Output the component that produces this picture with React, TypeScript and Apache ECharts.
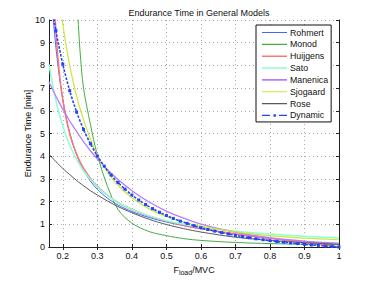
import React, { useEffect, useRef } from "react";
import * as echarts from "echarts";

const xs = [0.16, 0.17, 0.18, 0.19, 0.2, 0.21, 0.22, 0.23, 0.24, 0.25, 0.26, 0.28, 0.3, 0.33, 0.36, 0.4, 0.45, 0.5, 0.55, 0.6, 0.7, 0.8, 0.9, 1.0];
const rohmert = [12.6, 10.45, 8.8, 7.51, 6.5, 5.69, 5.04, 4.51, 4.07, 3.7, 3.39, 2.9, 2.54, 2.14, 1.85, 1.56, 1.3, 1.1, 0.94, 0.8, 0.57, 0.38, 0.23, 0.1];
const monod = [40, 33, 27, 22.5, 19, 16, 13.8, 12.4, 11.0, 8.6, 7.0, 5.4, 4.05, 2.65, 1.65, 1.05, 0.68, 0.5, 0.37, 0.29, 0.2, 0.15, 0.12, 0.1];
const huijgens = [21.4, 12.87, 9.52, 7.67, 6.48, 5.63, 4.99, 4.49, 4.09, 3.75, 3.47, 3.02, 2.67, 2.27, 1.96, 1.65, 1.36, 1.14, 0.96, 0.81, 0.57, 0.38, 0.21, 0];
const sato = [8.05, 7.18, 6.45, 5.84, 5.32, 4.88, 4.49, 4.15, 3.86, 3.6, 3.36, 2.97, 2.65, 2.26, 1.96, 1.66, 1.37, 1.16, 1.0, 0.88, 0.69, 0.57, 0.47, 0.4];
const manenica = [7.27, 6.95, 6.64, 6.35, 6.07, 5.81, 5.55, 5.31, 5.08, 4.86, 4.64, 4.24, 3.88, 3.39, 2.97, 2.48, 1.98, 1.58, 1.27, 1.01, 0.65, 0.41, 0.26, 0.17];
const sjogaard = [15.7, 13.9, 12.3, 10.9, 9.8, 8.83, 8.0, 7.28, 6.65, 6.1, 5.61, 4.75, 4.05, 3.28, 2.72, 2.17, 1.68, 1.34, 1.1, 0.92, 0.67, 0.5, 0.39, 0.32];
const rose = [4.09, 3.92, 3.76, 3.61, 3.46, 3.32, 3.19, 3.06, 2.93, 2.81, 2.7, 2.48, 2.29, 2.02, 1.78, 1.51, 1.22, 0.99, 0.81, 0.66, 0.43, 0.29, 0.19, 0.12];

const dynXs = [0.16, 0.18, 0.2, 0.22, 0.24, 0.26, 0.28, 0.3, 0.32, 0.34, 0.36, 0.38, 0.4, 0.42, 0.44, 0.46, 0.48, 0.5, 0.52, 0.54, 0.56, 0.58, 0.6, 0.62, 0.64, 0.66, 0.68, 0.7, 0.72, 0.74, 0.76, 0.78, 0.8, 0.82, 0.84, 0.86, 0.88, 0.9, 0.92, 0.94, 0.96, 0.98, 1.0];
const dynamic = [11.45, 9.53, 8.05, 6.88, 5.95, 5.18, 4.55, 4.01, 3.56, 3.17, 2.84, 2.55, 2.29, 2.07, 1.87, 1.69, 1.53, 1.39, 1.26, 1.14, 1.04, 0.94, 0.85, 0.77, 0.7, 0.63, 0.57, 0.51, 0.46, 0.41, 0.36, 0.32, 0.28, 0.24, 0.21, 0.18, 0.15, 0.12, 0.09, 0.07, 0.04, 0.02, 0];

const xTicks = [0.2, 0.3, 0.4, 0.5, 0.6, 0.7, 0.8, 0.9, 1.0];
const names = ["Rohmert", "Monod", "Huijgens", "Sato", "Manenica", "Sjogaard", "Rose", "Dynamic"];
const colors = ["#4466ff", "#44ad44", "#ff7474", "#8dffd0", "#b87cff", "#cbe83a", "#5a5a5a", "#2244ff"];

const FONT = "'Liberation Sans', Arial, sans-serif";

const BOX = "M0,0h0.01v0.01h-0.01zM24.99,7.99h0.01v0.01h-0.01z";
const thinIcon = "path://" + BOX + "M0,3.45h25v1.1h-25z";
const thickIcon = "path://" + BOX + "M0,3.2h25v1.6h-25z";
const dashIcon = "path://" + BOX + "M0,3.4h8v1.2h-8zM11.5,2.8h2.4v2.4h-2.4zM17,3.4h8v1.2h-8z";

export default function App() {
  const ref = useRef<HTMLDivElement>(null);
  useEffect(() => {
    if (!ref.current) return;
    const chart = echarts.init(ref.current, undefined, { renderer: "svg" });
    const solid = [rohmert, monod, huijgens, sato, manenica, sjogaard, rose];
    const widths = [1, 1, 1.5, 1.5, 1.3, 1.2, 1];
    const series: any[] = solid.map((arr, k) => ({
      name: names[k],
      type: "line",
      data: xs.map((x, i) => [x, arr[i]]),
      smooth: 0.3,
      symbol: "none",
      clip: true,
      lineStyle: { color: colors[k], width: widths[k] },
      itemStyle: { color: colors[k] },
      z: 2 + k,
    }));
    series.push({
      name: names[7],
      type: "line",
      data: dynXs.map((x, i) => [x, dynamic[i]]),
      smooth: 0.3,
      symbol: "rect",
      symbolSize: 3,
      showSymbol: true,
      clip: true,
      lineStyle: { color: colors[7], width: 1.6, type: [2.5, 1.5] },
      itemStyle: { color: colors[7] },
      z: 10,
    });
    const legendData = names.map((n, k) => ({
      name: n,
      icon: k === 7 ? dashIcon : widths[k] > 1.25 ? thickIcon : thinIcon,
    }));
    const axisLineStyle = { color: "#222", width: 1 };
    chart.setOption({
      animation: false,
      backgroundColor: "#fff",
      textStyle: { fontFamily: FONT },
      title: {
        text: "Endurance Time in General Models",
        left: 194,
        top: 3,
        textAlign: "center",
        textStyle: { fontSize: 9, fontWeight: "normal", color: "#111", fontFamily: FONT },
      },
      legend: {
        orient: "vertical",
        left: 256,
        top: 25,
        data: legendData,
        itemWidth: 25,
        itemHeight: 8,
        itemGap: 2.85,
        padding: [3, 3, 2, 6],
        borderColor: "#111",
        borderWidth: 1,
        backgroundColor: "#fff",
        textStyle: { fontSize: 8.8, color: "#111", fontFamily: FONT, padding: [0, 0, 0, -2] },
      },
      grid: { left: 49, right: 35, top: 20, bottom: 32 },
      xAxis: [
        {
          type: "value",
          min: 0.16,
          max: 1,
          splitNumber: 8,
          name: "{a|F}{b|load}{a|/MVC}",
          nameLocation: "middle",
          nameGap: 16,
          nameMoveOverlap: false,
          nameTextStyle: {
            rich: {
              a: { fontSize: 9, color: "#111", fontFamily: FONT },
              b: { fontSize: 7, color: "#111", fontFamily: FONT, padding: [6, 0, 0, 0] },
            },
          },
          axisLine: { show: true, lineStyle: axisLineStyle },
          axisTick: { show: true, inside: true, length: 3, customValues: xTicks, lineStyle: axisLineStyle },
          axisLabel: {
            customValues: xTicks,
            fontSize: 9,
            color: "#111",
            margin: 4,
            formatter: (v: number) => (Math.abs(v - 1) < 1e-9 ? "1" : v.toFixed(1)),
          },
          splitLine: { show: true, lineStyle: { color: "#aaa", type: [1, 3], width: 1 } },
        },
        {
          type: "value",
          position: "top",
          min: 0.16,
          max: 1,
          splitNumber: 8,
          axisLine: { show: true, lineStyle: axisLineStyle },
          axisTick: { show: true, inside: true, length: 3, customValues: xTicks, lineStyle: axisLineStyle },
          axisLabel: { show: false },
          splitLine: { show: false },
        },
      ],
      yAxis: [
        {
          type: "value",
          min: 0,
          max: 10,
          interval: 1,
          name: "Endurance Time [min]",
          nameLocation: "middle",
          nameGap: 17,
          nameMoveOverlap: false,
          nameTextStyle: { fontSize: 9, color: "#111", fontFamily: FONT },
          axisLine: { show: true, lineStyle: axisLineStyle },
          axisTick: { show: true, inside: true, length: 3, lineStyle: axisLineStyle },
          axisLabel: { fontSize: 9, color: "#111", margin: 4 },
          splitLine: { show: true, lineStyle: { color: "#aaa", type: [1, 3], width: 1 } },
        },
        {
          type: "value",
          position: "right",
          min: 0,
          max: 10,
          interval: 1,
          axisLine: { show: true, lineStyle: axisLineStyle },
          axisTick: { show: true, inside: true, length: 3, lineStyle: axisLineStyle },
          axisLabel: { show: false },
          splitLine: { show: false },
        },
      ],
      series,
    });
    return () => chart.dispose();
  }, []);
  return <div ref={ref} style={{ position: "fixed", left: 0, top: 0, width: 374, height: 281 }} />;
}
